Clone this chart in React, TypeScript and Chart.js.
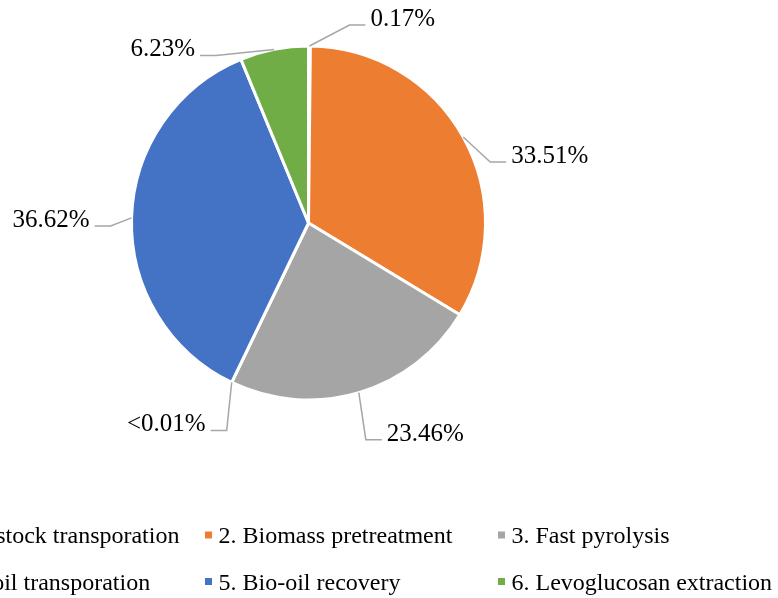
import React, { useEffect, useRef } from "react";
import { Chart, registerables } from "chart.js";

Chart.register(...registerables);

const categories = [
  "1. Feedstock transporation",
  "2. Biomass pretreatment",
  "3. Fast pyrolysis",
  "4. Bio-oil transporation",
  "5. Bio-oil recovery",
  "6. Levoglucosan extraction",
];
const shares = [0.17, 33.51, 23.46, 0.005, 36.62, 6.23];
const shareLabels = ["0.17%", "33.51%", "23.46%", "<0.01%", "36.62%", "6.23%"];
const sliceColors = ["#FFC000", "#ED7D31", "#A5A5A5", "#264478", "#4472C4", "#70AD47"];

// leader-line elbow offsets from each slice's outer mid-point, and label side
const leaderOffsets: [number, number, number][] = [
  [40, -21, 1],
  [27, 25, 1],
  [7, 47, 1],
  [-5, 48, -1],
  [-21, 8, -1],
  [-58, 6, -1],
];

const FONT = '"Liberation Serif", "Times New Roman", serif';

const labelPlugin = {
  id: "leaderLabels",
  afterDatasetsDraw(chart: any) {
    const ctx = chart.ctx;
    const meta = chart.getDatasetMeta(0);
    ctx.save();
    meta.data.forEach((arc: any, i: number) => {
      const p = arc.getProps(["x", "y", "startAngle", "endAngle", "outerRadius"], true);
      const mid = (p.startAngle + p.endAngle) / 2;
      const ax = p.x + Math.cos(mid) * p.outerRadius;
      const ay = p.y + Math.sin(mid) * p.outerRadius;
      const [dx, dy, dir] = leaderOffsets[i];
      const ex = ax + dx;
      const ey = ay + dy;
      const hx = ex + dir * 16;
      ctx.strokeStyle = "#A6A6A6";
      ctx.lineWidth = 1.5;
      ctx.beginPath();
      ctx.moveTo(ax, ay);
      ctx.lineTo(ex, ey);
      ctx.lineTo(hx, ey);
      ctx.stroke();
      ctx.fillStyle = "#000";
      ctx.font = `25px ${FONT}`;
      ctx.textAlign = dir > 0 ? "left" : "right";
      ctx.textBaseline = "alphabetic";
      ctx.fillText(shareLabels[i], hx + dir * 5, ey + 1);
    });
    ctx.restore();
  },
};

const legendPlugin = {
  id: "customLegend",
  afterDraw(chart: any) {
    const ctx = chart.ctx;
    ctx.save();
    ctx.font = `24px ${FONT}`;
    ctx.textAlign = "left";
    ctx.textBaseline = "alphabetic";
    const colStart = -84.5;
    const pitch = 293;
    const rowY = [535, 581.5];
    categories.forEach((c, i) => {
      const col = i % 3;
      const row = Math.floor(i / 3);
      const cx = colStart + col * pitch;
      const cy = rowY[row];
      ctx.fillStyle = sliceColors[i];
      ctx.fillRect(cx - 3.5, cy - 3.5, 7, 7);
      ctx.fillStyle = "#000";
      ctx.fillText(c, cx + 10, cy + 8);
    });
    ctx.restore();
  },
};

export default function App() {
  const ref = useRef<HTMLCanvasElement>(null);
  useEffect(() => {
    if (!ref.current) return;
    const chart = new Chart(ref.current, {
      type: "pie",
      data: {
        labels: categories,
        datasets: [
          {
            data: shares,
            backgroundColor: sliceColors,
            borderColor: "#FFFFFF",
            borderWidth: 3,
          },
        ],
      },
      options: {
        responsive: false,
        animation: false,
        layout: { padding: { left: 130, right: 291, top: 44.5, bottom: 196.5 } },
        plugins: { legend: { display: false }, tooltip: { enabled: false } },
      },
      plugins: [labelPlugin, legendPlugin],
    });
    return () => chart.destroy();
  }, []);
  return (
    <div style={{ position: "fixed", left: 0, top: 0, width: 778, height: 598, background: "#fff" }}>
      <canvas ref={ref} width={778} height={598} style={{ display: "block" }} />
    </div>
  );
}
